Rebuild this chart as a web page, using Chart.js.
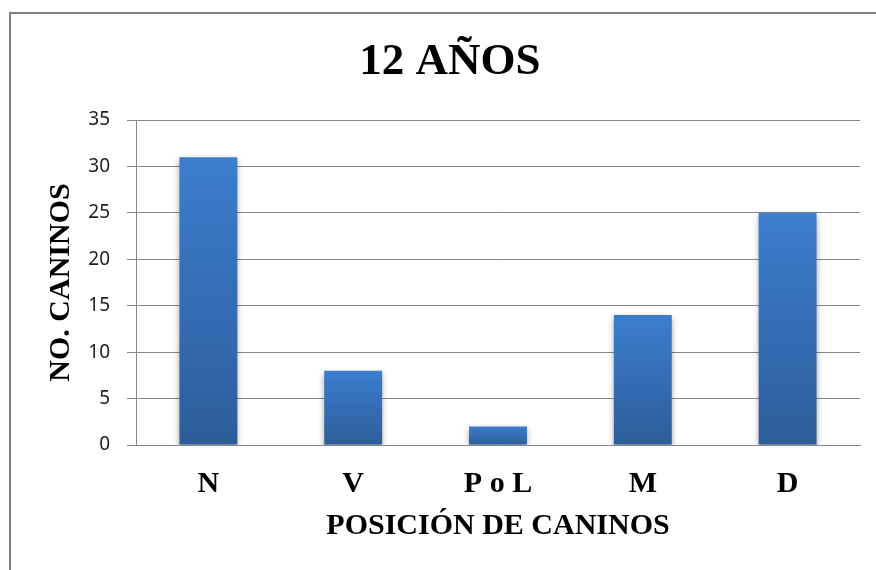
<!DOCTYPE html>
<html>
<head>
<meta charset="utf-8">
<script src="https://cdn.jsdelivr.net/npm/chart.js@4"></script>
<style>
  html, body { margin: 0; padding: 0; background: #fff; }
  #wrap { position: relative; width: 876px; height: 570px; overflow: hidden; }
  #frame { position: absolute; left: 9px; top: 12px; right: -4px; bottom: -4px;
           border-top: 2px solid #808080; border-left: 2px solid #808080; pointer-events: none; }
  canvas { position: absolute; left: 0; top: 0; }
</style>
</head>
<body>
<div id="wrap">
  <canvas id="chart" width="876" height="570"></canvas>
  <div id="frame"></div>
</div>
<script>
// datos
const CATEGORIAS = ['N', 'V', 'P o L', 'M', 'D'];
const CANINOS = [31, 8, 2, 14, 25];
const Y_MIN = 0, Y_MAX = 35, Y_PASO = 5;

const TITULO = '12 AÑOS';
const TITULO_X = 'POSICIÓN DE CANINOS';
const TITULO_Y = 'NO. CANINOS';

const GRIS = '#878787';
const SERIF = '"Liberation Serif", "Times New Roman", serif';

// degradado por barra (claro arriba, oscuro abajo)
function barGradient(ctx){
  const chart = ctx.chart;
  if (!chart.chartArea || ctx.parsed == null) return '#3a78c8';
  const y = chart.scales.y;
  const top = y.getPixelForValue(ctx.parsed.y);
  const bottom = y.getPixelForValue(0);
  if (!isFinite(top) || bottom - top < 1) return '#3a78c8';
  const g = chart.ctx.createLinearGradient(0, top, 0, bottom);
  g.addColorStop(0, '#3c7dce');
  g.addColorStop(1, '#2d5d9a');
  return g;
}

// sombra suave bajo las barras
const sombra = {
  id: 'sombra',
  beforeDatasetsDraw(chart){
    const c = chart.ctx;
    c.save();
    c.shadowColor = 'rgba(0,0,0,0.35)';
    c.shadowBlur = 6;
    c.shadowOffsetX = 0;
    c.shadowOffsetY = 3;
  },
  afterDatasetsDraw(chart){
    chart.ctx.restore();
  }
};

new Chart(document.getElementById('chart'), {
  type: 'bar',
  data: {
    labels: CATEGORIAS,
    datasets: [{
      data: CANINOS,
      backgroundColor: barGradient,
      borderWidth: 0,
      barPercentage: 0.4,
      categoryPercentage: 1.0
    }]
  },
  plugins: [sombra],
  options: {
    responsive: false,
    animation: false,
    devicePixelRatio: 1,
    layout: { padding: { left: 40, right: 16, top: 12, bottom: 26 } },
    plugins: {
      legend: { display: false },
      tooltip: { enabled: false },
      title: {
        display: true,
        text: TITULO,
        color: '#000',
        font: { family: SERIF, size: 45, weight: 'bold' },
        padding: { top: 23, bottom: 31 }
      }
    },
    scales: {
      x: {
        afterFit(scale){ scale.height = 99; },
        grid: { display: false },
        border: { display: true, color: GRIS, width: 1 },
        ticks: {
          color: '#000',
          padding: 13,
          font: { family: SERIF, size: 30, weight: 'bold' }
        },
        title: {
          display: true,
          text: TITULO_X,
          color: '#000',
          font: { family: SERIF, size: 30, weight: 'bold' },
          padding: { top: 7, bottom: 0 }
        }
      },
      y: {
        min: Y_MIN,
        max: Y_MAX,
        afterFit(scale){ scale.width = 96; },
        grid: { color: GRIS, lineWidth: 1, tickLength: 9, drawTicks: true },
        border: { display: true, color: GRIS, width: 1 },
        ticks: {
          stepSize: Y_PASO,
          color: '#222',
          padding: 17,
          font: { family: '"Noto Sans", "Open Sans", sans-serif', size: 19 }
        },
        title: {
          display: true,
          text: TITULO_Y,
          color: '#000',
          font: { family: SERIF, size: 30, weight: 'bold' },
          padding: { top: 3, bottom: 0 }
        }
      }
    }
  }
});
</script>
</body>
</html>
